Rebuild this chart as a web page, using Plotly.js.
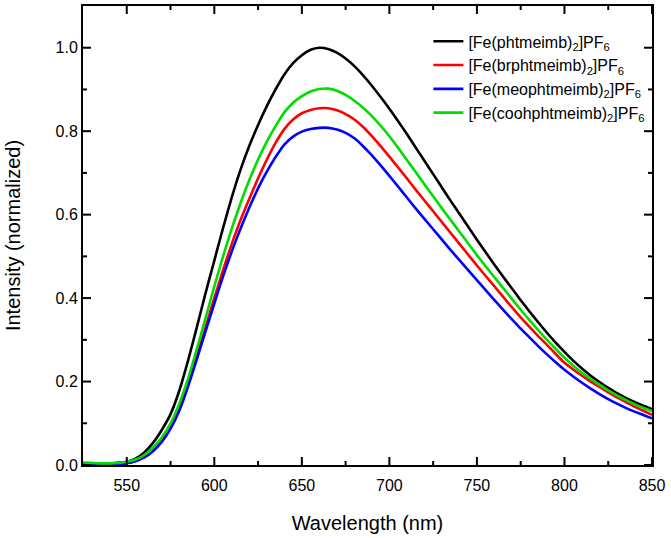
<!DOCTYPE html>
<html>
<head>
<meta charset="utf-8">
<script src="https://cdn.plot.ly/plotly-3.0.1.min.js"></script>
<style>
  html, body { margin: 0; padding: 0; background: #fff; }
  #chart { width: 671px; height: 538px; }
</style>
</head>
<body>
<div id="chart"></div>
<script>
// wavelength grid (nm), 5 nm steps
const wavelength = [
  525, 530, 535, 540, 545, 550, 555, 560, 565, 570, 575, 580, 585, 590, 595,
  600, 605, 610, 615, 620, 625, 630, 635, 640, 645, 650, 655, 660, 665, 670,
  675, 680, 685, 690, 695, 700, 705, 710, 715, 720, 725, 730, 735, 740, 745,
  750, 755, 760, 765, 770, 775, 780, 785, 790, 795, 800, 805, 810, 815, 820,
  825, 830, 835, 840, 845, 850
];

const seriesNames = [
  '[Fe(phtmeimb)<sub>2</sub>]PF<sub>6</sub>',
  '[Fe(brphtmeimb)<sub>2</sub>]PF<sub>6</sub>',
  '[Fe(meophtmeimb)<sub>2</sub>]PF<sub>6</sub>',
  '[Fe(coohphtmeimb)<sub>2</sub>]PF<sub>6</sub>'
];

const phtmeimb = [
  0.004, 0.003, 0.003, 0.003, 0.005, 0.008, 0.015, 0.030, 0.053, 0.084, 0.122, 0.178, 0.250, 0.330, 0.412,
  0.490, 0.568, 0.642, 0.708, 0.765, 0.815, 0.860, 0.900, 0.936, 0.963, 0.982, 0.995, 1.000, 0.997, 0.988,
  0.974, 0.956, 0.934, 0.909, 0.882, 0.854, 0.824, 0.793, 0.761, 0.729, 0.697, 0.665, 0.633, 0.602, 0.571,
  0.540, 0.510, 0.480, 0.451, 0.423, 0.395, 0.368, 0.342, 0.317, 0.293, 0.271, 0.250, 0.231, 0.214, 0.199,
  0.185, 0.172, 0.161, 0.151, 0.142, 0.134
];

const brphtmeimb = [
  0.003, 0.002, 0.002, 0.002, 0.003, 0.005, 0.010, 0.019, 0.035, 0.058, 0.090, 0.135, 0.193, 0.260, 0.330,
  0.400, 0.467, 0.530, 0.587, 0.638, 0.687, 0.732, 0.772, 0.805, 0.828, 0.843, 0.851, 0.855, 0.855, 0.850,
  0.841, 0.828, 0.810, 0.788, 0.764, 0.739, 0.713, 0.687, 0.660, 0.634, 0.608, 0.582, 0.556, 0.530, 0.504,
  0.478, 0.453, 0.428, 0.403, 0.378, 0.354, 0.331, 0.309, 0.288, 0.266, 0.245, 0.229, 0.214, 0.200, 0.187,
  0.174, 0.162, 0.151, 0.140, 0.130, 0.120
];

const meophtmeimb = [
  0.002, 0.001, 0.001, 0.001, 0.002, 0.004, 0.009, 0.018, 0.033, 0.055, 0.087, 0.130, 0.188, 0.253, 0.320,
  0.387, 0.452, 0.512, 0.567, 0.617, 0.663, 0.703, 0.738, 0.768, 0.787, 0.799, 0.805, 0.808, 0.808, 0.804,
  0.796, 0.783, 0.764, 0.742, 0.718, 0.693, 0.667, 0.641, 0.615, 0.590, 0.565, 0.540, 0.515, 0.491, 0.467,
  0.443, 0.419, 0.395, 0.372, 0.349, 0.327, 0.306, 0.285, 0.265, 0.246, 0.228, 0.212, 0.197, 0.183, 0.170,
  0.158, 0.147, 0.137, 0.128, 0.120, 0.112
];

const coohphtmeimb = [
  0.006, 0.005, 0.004, 0.004, 0.005, 0.008, 0.013, 0.024, 0.042, 0.066, 0.100, 0.147, 0.207, 0.278, 0.352,
  0.428, 0.500, 0.567, 0.628, 0.683, 0.732, 0.775, 0.812, 0.845, 0.868, 0.884, 0.895, 0.901, 0.902, 0.897,
  0.887, 0.873, 0.856, 0.836, 0.813, 0.788, 0.760, 0.731, 0.702, 0.673, 0.644, 0.615, 0.587, 0.559, 0.531,
  0.503, 0.476, 0.450, 0.424, 0.398, 0.372, 0.347, 0.323, 0.300, 0.278, 0.257, 0.238, 0.221, 0.206, 0.192,
  0.179, 0.167, 0.156, 0.146, 0.137, 0.129
];

const colors = ['#000000', '#ff0000', '#0000ff', '#00dd00'];
const intensities = [phtmeimb, brphtmeimb, meophtmeimb, coohphtmeimb];

// axis tick positions
const xMajorTicks = [550, 600, 650, 700, 750, 800, 850];
const xMinorTicks = [575, 625, 675, 725, 775, 825];
const yMajorTicks = [0, 0.2, 0.4, 0.6, 0.8, 1.0];
const yMinorTicks = [0.1, 0.3, 0.5, 0.7, 0.9];

const traces = intensities.map((ys, i) => ({
  x: wavelength,
  y: ys,
  type: 'scatter',
  mode: 'lines',
  name: seriesNames[i],
  line: { color: colors[i], width: 2.6, shape: 'spline', smoothing: 0.5 }
}));

const fontFamily = 'Liberation Sans, Arial, sans-serif';

// plot area is 569 x 459 px; ticks point inward on all four sides
// (axis ticks did not show up in the renderer, so they are drawn as shapes)
const plotW = 569, plotH = 459;
const tickShapes = [];
function xTick(v, len) {
  const f = len / plotH;
  tickShapes.push({ type: 'line', xref: 'x', yref: 'paper', x0: v, x1: v, y0: 0, y1: f,
    line: { color: '#000', width: 2 }, layer: 'above' });
  tickShapes.push({ type: 'line', xref: 'x', yref: 'paper', x0: v, x1: v, y0: 1, y1: 1 - f,
    line: { color: '#000', width: 2 }, layer: 'above' });
}
function yTick(v, len) {
  const f = len / plotW;
  tickShapes.push({ type: 'line', xref: 'paper', yref: 'y', x0: 0, x1: f, y0: v, y1: v,
    line: { color: '#000', width: 2 }, layer: 'above' });
  tickShapes.push({ type: 'line', xref: 'paper', yref: 'y', x0: 1, x1: 1 - f, y0: v, y1: v,
    line: { color: '#000', width: 2 }, layer: 'above' });
}
xMajorTicks.forEach(v => xTick(v, 8));
xMinorTicks.forEach(v => xTick(v, 4));
yMajorTicks.forEach(v => yTick(v, 8));
yMinorTicks.forEach(v => yTick(v, 4));

const layout = {
  width: 671,
  height: 538,
  margin: { l: 83, r: 19, t: 6, b: 73 },
  paper_bgcolor: '#fff',
  plot_bgcolor: '#fff',
  showlegend: true,
  legend: {
    x: 0.607, y: 0.96, xanchor: 'left', yanchor: 'top',
    bgcolor: 'rgba(0,0,0,0)',
    font: { family: fontFamily, size: 16, color: '#000' },
    tracegroupgap: 0
  },
  shapes: tickShapes,
  xaxis: {
    range: [525, 850],
    tickmode: 'array',
    tickvals: xMajorTicks,
    showline: true,
    linecolor: '#000',
    linewidth: 2,
    mirror: true,
    ticks: '',
    ticklabelstandoff: 5,
    showgrid: false,
    zeroline: false,
    tickfont: { family: fontFamily, size: 16, color: '#000' },
    title: { text: 'Wavelength (nm)', standoff: 23,
      font: { family: fontFamily, size: 20, color: '#000' } }
  },
  yaxis: {
    range: [0, 1.1],
    tickmode: 'array',
    tickvals: yMajorTicks,
    tickformat: '.1f',
    showline: true,
    linecolor: '#000',
    linewidth: 2,
    mirror: true,
    ticks: '',
    showgrid: false,
    zeroline: false,
    tickfont: { family: fontFamily, size: 16, color: '#000' },
    title: { text: 'Intensity (normalized)', standoff: 30,
      font: { family: fontFamily, size: 20, color: '#000' } }
  }
};

Plotly.newPlot('chart', traces, layout, { displayModeBar: false });
</script>
</body>
</html>
